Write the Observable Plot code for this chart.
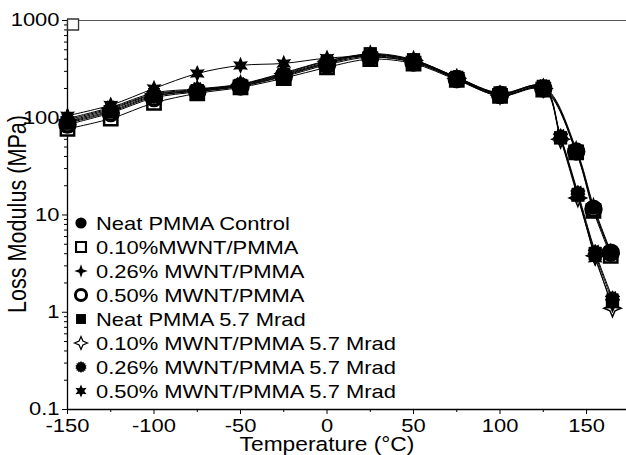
<!DOCTYPE html>
<html><head><meta charset="utf-8">
<script src="https://cdn.jsdelivr.net/npm/d3@7"></script>
<script src="https://cdn.jsdelivr.net/npm/@observablehq/plot@0.6"></script>
<style>
html,body{margin:0;padding:0;background:#fff;}
</style></head><body><div id="chart"></div>
<script>
// ---- data ----
const seriesNames = [
  "Neat PMMA Control",
  "0.10%MWNT/PMMA",
  "0.26% MWNT/PMMA",
  "0.50% MWNT/PMMA",
  "Neat PMMA 5.7 Mrad",
  "0.10% MWNT/PMMA 5.7 Mrad",
  "0.26% MWNT/PMMA 5.7 Mrad",
  "0.50% MWNT/PMMA 5.7 Mrad"
];
// temperatures (°C) of unirradiated and irradiated samples
const tempsNeat = [-150,-125,-100,-75,-50,-25,0,25,50,75,100,125,144,154,164];
const tempsIrr  = [-150,-125,-100,-75,-50,-25,0,25,50,75,100,125,135,145,155,165];
// loss modulus (MPa)
const neatControl   = [90,118,168,188,212,270,360,430,380,255,175,205,46,12,4.0];
const mwnt010       = [77,98,142,178,205,255,330,400,360,245,168,195,44,11,3.8];
const mwnt026       = [92,122,172,192,218,280,370,440,385,258,178,210,48,12.5,4.2];
const mwnt050       = [85,112,160,185,210,265,350,420,370,250,172,200,45,11.5,4.1];
const neatIrr       = [88,115,165,190,215,275,365,455,395,260,180,210,62,16,4.0,1.3];
const mwnt010Irr    = [95,125,175,195,220,285,380,445,390,255,170,200,60,15,3.8,1.1];
const mwnt026Irr    = [98,128,180,198,222,290,385,450,390,262,176,212,65,17,4.2,1.4];
const mwnt050Irr    = [105,135,200,285,345,362,410,425,375,250,168,205,63,16,3.6,1.2];
const strayT = [-146.8];
const strayV = [910];

const xMajor = [-150,-100,-50,0,50,100,150];
const xMinor = [-125,-75,-25,25,75,125];
const yMajor = [0.1,1,10,100,1000];
const yMajorLabels = ["0.1","1","10","100","1000"];

// ---- build ----
const valueSets = [neatControl, mwnt010, mwnt026, mwnt050, neatIrr, mwnt010Irr, mwnt026Irr, mwnt050Irr];
const tempSets = [tempsNeat, tempsNeat, tempsNeat, tempsNeat, tempsIrr, tempsIrr, tempsIrr, tempsIrr];
const series = valueSets.map((vals, i) => vals.map((v, j) => ({series: seriesNames[i], t: tempSets[i][j], v})));

const yMinor = [];
for (const d of [0.1,1,10,100]) for (let k = 2; k <= 9; k++) yMinor.push(+(d*k).toPrecision(3));

function starSym(n, inner, scale) {
  return {draw(ctx, size) {
    const R = Math.sqrt(size / Math.PI) * scale, r = R * inner;
    for (let i = 0; i < 2 * n; i++) {
      const a = Math.PI * i / n - Math.PI / 2, rr = i % 2 ? r : R;
      const x = rr * Math.cos(a), y = rr * Math.sin(a);
      i ? ctx.lineTo(x, y) : ctx.moveTo(x, y);
    }
    ctx.closePath();
  }};
}
const symbols = [
  d3.symbolCircle, d3.symbolSquare, starSym(4, 0.36, 1.2), d3.symbolCircle,
  d3.symbolSquare, starSym(4, 0.42, 1.15), starSym(14, 0.78, 1.05), starSym(6, 0.5, 1.15)
];
const fills   = ["black","white","black","white","black","white","black","black"];
const strokes = ["none","black","none","black","none","black","none","none"];
const sws     = [0, 2.5, 0, 3.5, 0, 1.5, 0, 0];
const drawOrder = [1, 3, 5, 0, 2, 4, 6, 7]; // hollow markers underneath

const lineMarks = series.map(s => Plot.line(s, {x: "t", y: "v", curve: "catmull-rom", stroke: "black", strokeWidth: 1}));
const dotMarks = drawOrder.map(i => Plot.dot(series[i], {x: "t", y: "v", symbol: () => symbols[i], r: 7.5, fill: fills[i], stroke: strokes[i], strokeWidth: sws[i]}));

const svg = Plot.plot({
  width: 626, height: 455,
  marginLeft: 67, marginRight: 0, marginTop: 20, marginBottom: 46,
  style: {fontFamily: "'Liberation Sans', Arial, sans-serif", fontSize: "18.6px", color: "black", background: "white", overflow: "visible"},
  x: {domain: [-150, 173.1], label: null},
  y: {type: "log", domain: [0.1, 1000], label: null},
  symbol: {type: "identity"},
  marks: [
    Plot.ruleY([1000], {stroke: "#555", strokeWidth: 1}),
    Plot.axisX(xMajor, {tickSize: 5, tickPadding: 4, tickFormat: d => String(d), label: null, fontSize: 18.6}),
    Plot.axisX(xMinor, {tickSize: 3, tickFormat: () => "", label: null}),
    Plot.axisY(yMajor, {tickSize: 5, tickPadding: 3, tickFormat: d => yMajorLabels[yMajor.indexOf(d)], label: null, fontSize: 18.6}),
    Plot.axisY(yMinor, {tickSize: 3, tickFormat: () => "", label: null}),
    Plot.ruleX([-150], {stroke: "black", strokeWidth: 1.3}),
    Plot.ruleY([0.1], {stroke: "black", strokeWidth: 1.3}),
    ...lineMarks,
    ...dotMarks,
    Plot.dot(strayT.map((t, i) => ({t, v: strayV[i]})), {x: "t", y: "v", symbol: "square", r: 6.2, fill: "white", stroke: "#333", strokeWidth: 1.3})
  ]
});
document.getElementById("chart").appendChild(svg);

const s = d3.select(svg);
s.append("text").attr("class", "stretch").attr("x", 327).attr("y", 451)
  .attr("text-anchor", "middle").attr("font-size", 19.3).attr("fill", "black").text("Temperature (°C)");
s.append("text").attr("transform", "translate(26,214) scale(1.18,1) rotate(-90)")
  .attr("text-anchor", "middle").attr("font-size", 21.6).attr("fill", "black").text("Loss Modulus (MPa)");

const legendTop = 223, legendStep = 24;
const lg = s.append("g").attr("text-anchor", "start");
seriesNames.forEach((name, i) => {
  const y = legendTop + i * legendStep;
  lg.append("path").attr("transform", `translate(81,${y})`)
    .attr("d", d3.symbol(symbols[i], Math.PI * 5.6 * 5.6)())
    .attr("fill", fills[i]).attr("stroke", strokes[i]).attr("stroke-width", sws[i] * 0.85);
  lg.append("text").attr("class", "stretch").attr("x", 96).attr("y", y).attr("dy", "0.36em")
    .attr("text-anchor", "start").attr("font-size", 18.6).attr("fill", "black").text(name);
});

s.selectAll('text.stretch, g[aria-label="x-axis tick label"] text, g[aria-label="y-axis tick label"] text').each(function() {
  if (!this.textContent) return;
  const L = this.getComputedTextLength();
  this.setAttribute("textLength", L * 1.18);
  this.setAttribute("lengthAdjust", "spacingAndGlyphs");
});
</script></body></html>
